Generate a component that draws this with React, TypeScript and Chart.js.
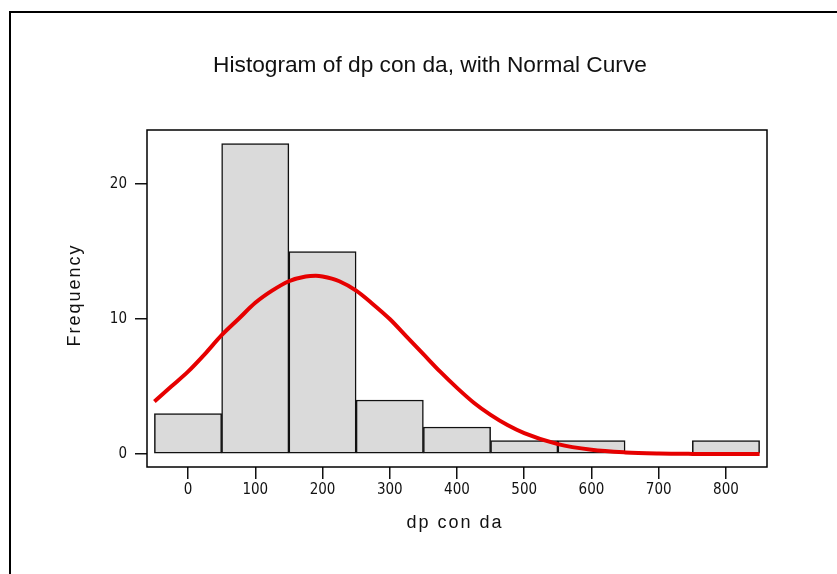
import React, { useEffect, useRef } from "react";
import { Chart, registerables } from "chart.js";

Chart.register(...registerables);

// Histogram bins (centers) and frequencies
const BIN_CENTERS = [0, 100, 200, 300, 400, 500, 600, 700, 800];
const COUNTS = [3, 23, 15, 4, 2, 1, 1, 0, 1];

// Fitted normal curve
const CURVE_X = [-50, -25, 0, 25, 50, 75, 100, 125, 150, 175, 190, 200, 225, 250, 275, 300, 325, 350, 375, 400, 425, 450, 475, 500, 550, 600, 650, 700, 750, 800, 850];
const CURVE_Y = [3.9, 5.0, 6.1, 7.4, 8.8, 10.0, 11.2, 12.1, 12.8, 13.15, 13.2, 13.15, 12.8, 12.1, 11.1, 10.0, 8.7, 7.4, 6.1, 4.9, 3.8, 2.9, 2.15, 1.55, 0.73, 0.31, 0.12, 0.04, 0.01, 0, 0];

const X_TICKS = [0, 100, 200, 300, 400, 500, 600, 700, 800];
const Y_TICKS = [0, 10, 20];

const X_MIN = -61;
const X_MAX = 861;
const Y_MIN = -0.96;
const Y_MAX = 24;

const TITLE = "Histogram of dp con da, with Normal Curve";
const X_TITLE = "dp con da";
const Y_TITLE = "Frequency";

const W = 837;
const H = 574;

const TICK_FONT = { family: "'Liberation Sans Narrow', 'DejaVu Sans Condensed', 'Liberation Sans', Arial, sans-serif", size: 15 };

const decorPlugin = {
  id: "decor",
  afterDraw(chart: any) {
    const { ctx, chartArea } = chart;
    ctx.save();
    // plot frame
    ctx.strokeStyle = "#000";
    ctx.lineWidth = 1.5;
    ctx.strokeRect(chartArea.left, chartArea.top, chartArea.right - chartArea.left, chartArea.bottom - chartArea.top);

    ctx.fillStyle = "#111";
    // title
    ctx.font = "22.7px 'Liberation Sans', Arial, sans-serif";
    ctx.textAlign = "center";
    ctx.textBaseline = "alphabetic";
    (ctx as any).letterSpacing = "0px";
    ctx.fillText(TITLE, 430, 72);

    // axis titles
    ctx.font = "18px 'Liberation Sans', Arial, sans-serif";
    (ctx as any).letterSpacing = "2px";
    ctx.fillText(X_TITLE, 455, 528);

    ctx.translate(80, 295);
    ctx.rotate(-Math.PI / 2);
    ctx.fillText(Y_TITLE, 0, 0);
    ctx.restore();
  },
};

export default function App() {
  const ref = useRef<HTMLCanvasElement | null>(null);

  useEffect(() => {
    if (!ref.current) return;
    const chart = new Chart(ref.current, {
      type: "bar",
      data: {
        datasets: [
          {
            type: "line",
            data: CURVE_X.map((x, i) => ({ x, y: CURVE_Y[i] })),
            borderColor: "#e60000",
            borderWidth: 4,
            pointRadius: 0,
            cubicInterpolationMode: "monotone",
            fill: false,
            order: 0,
          } as any,
          {
            type: "bar",
            data: BIN_CENTERS.map((x, i) => ({ x, y: COUNTS[i] === 0 ? null : COUNTS[i] })),
            backgroundColor: "#dadada",
            borderColor: "#111",
            borderWidth: 1.5,
            borderSkipped: false,
            barPercentage: 1,
            categoryPercentage: 1,
            order: 1,
          } as any,
        ],
      },
      options: {
        animation: false,
        responsive: false,
        events: [],
        layout: { padding: { left: 0, top: 130, right: 70, bottom: 0 } },
        plugins: {
          legend: { display: false },
          title: { display: false },
          tooltip: { enabled: false },
        },
        scales: {
          x: {
            type: "linear",
            min: X_MIN,
            max: X_MAX,
            offset: false,
            afterBuildTicks: (s: any) => {
              s.ticks = X_TICKS.map((v) => ({ value: v }));
            },
            afterFit: (s: any) => {
              s.height = 107;
            },
            ticks: { font: TICK_FONT, color: "#111", padding: 2, maxRotation: 0, autoSkip: false },
            grid: { offset: false, drawOnChartArea: false, drawTicks: true, tickLength: 12, color: "#111", lineWidth: 1.5 },
            border: { display: false },
          },
          y: {
            type: "linear",
            min: Y_MIN,
            max: Y_MAX,
            afterBuildTicks: (s: any) => {
              s.ticks = Y_TICKS.map((v) => ({ value: v }));
            },
            afterFit: (s: any) => {
              s.width = 147;
            },
            ticks: { font: TICK_FONT, color: "#111", padding: 8 },
            grid: { drawOnChartArea: false, drawTicks: true, tickLength: 12, color: "#111", lineWidth: 1.5 },
            border: { display: false },
          },
        },
      } as any,
      plugins: [decorPlugin],
    });
    return () => chart.destroy();
  }, []);

  return (
    <div style={{ position: "fixed", left: 0, top: 0, width: W, height: H, background: "#fff" }}>
      <canvas ref={ref} width={W} height={H} style={{ position: "absolute", left: 0, top: 0 }} />
      <div
        style={{
          position: "absolute",
          left: 9,
          top: 11,
          width: W,
          height: H,
          borderLeft: "2px solid #000",
          borderTop: "2px solid #000",
          pointerEvents: "none",
        }}
      />
    </div>
  );
}
